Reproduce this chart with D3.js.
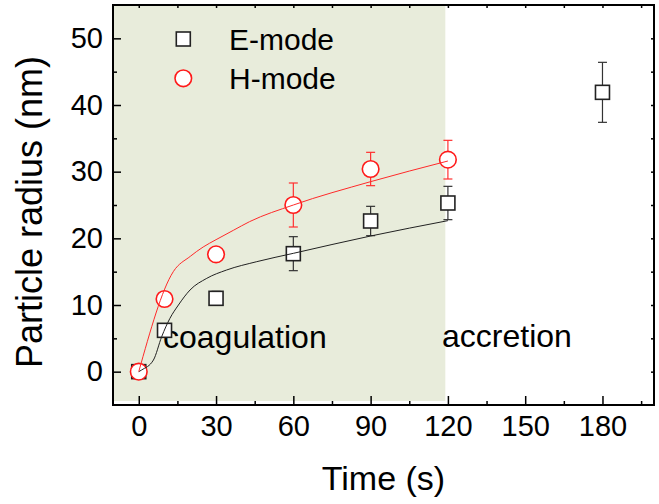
<!DOCTYPE html>
<html>
<head>
<meta charset="utf-8">
<script src="https://cdn.jsdelivr.net/npm/d3@7"></script>
<style>
  body { margin: 0; background: #fff; }
  svg { display: block; font-family: "Liberation Sans", Arial, sans-serif; }
</style>
</head>
<body>
<svg width="659" height="504"></svg>
<script>
// measured points
const timeE = [0, 10, 30, 60, 90, 120, 180];
const radiusE = [0, 6.2, 11.0, 17.7, 22.6, 25.3, 41.9];
const errE = [0, 0.5, 1.05, 2.55, 2.2, 2.5, 4.5];

const timeH = [0, 10, 30, 60, 90, 120];
const radiusH = [0, 10.9, 17.6, 25.0, 30.4, 31.8];
const errH = [0, 0.3, 0.4, 3.3, 2.5, 2.9];

// fitted curves
const fitTimeE = [0, 1.1, 5.7, 8.9, 12.1, 15.4, 19.9, 26.4, 34.1, 45.8, 60, 90, 120];
const fitE = [0, 0.25, 1.75, 5.25, 8, 10, 12.25, 14, 15.25, 16.5, 17.75, 20.35, 22.65];
const fitTimeH = [0, 13.4, 20, 25, 30, 36.7, 43, 60, 90, 120];
const fitH = [0, 15, 17.3, 18.7, 19.8, 21.2, 22.5, 25, 28.5, 31.6];

const xMajor = [0, 30, 60, 90, 120, 150, 180];
const xMinor = [15, 45, 75, 105, 135, 165, 195];
const yMajor = [0, 10, 20, 30, 40, 50];
const yMinor = [5, 15, 25, 35, 45];
const seriesNames = ["E-mode", "H-mode"];
const regionLabels = ["coagulation", "accretion"];
const shadeEnd = 119;

const svg = d3.select("svg");
const mLeft = 113, mRight = 654, mTop = 5, mBottom = 405;

const x = d3.scaleLinear().domain([-10, 200]).range([mLeft, mRight]);
const y = d3.scaleLinear().domain([-5, 55]).range([mBottom, mTop]);

// shaded coagulation region
svg.append("rect")
    .attr("x", mLeft)
    .attr("y", mTop)
    .attr("width", x(shadeEnd) - mLeft)
    .attr("height", mBottom - mTop - 4)
    .attr("fill", "#e8ecdb");

function addAxis(axis, tx, ty, labels) {
    let g = svg.append("g")
        .attr("transform", `translate(${tx},${ty})`)
        .call(axis);
    g.select(".domain").remove();
    g.selectAll("line").attr("stroke", "#000").attr("stroke-width", 1.5);
    g.selectAll("text")
        .attr("fill", "#000")
        .style("font-size", labels ? "29px" : "0px");
    return g;
}

addAxis(d3.axisBottom(x).tickValues(xMajor).tickSize(-9).tickPadding(10), 0, mBottom, true);
addAxis(d3.axisBottom(x).tickValues(xMinor).tickSize(-4).tickFormat(""), 0, mBottom, false);
addAxis(d3.axisLeft(y).tickValues(yMajor).tickSize(-8).tickPadding(10), mLeft, 0, true);
addAxis(d3.axisLeft(y).tickValues(yMinor).tickSize(-4).tickFormat(""), mLeft, 0, false);
addAxis(d3.axisTop(x).tickValues(xMajor.concat(xMinor)).tickSize(-3).tickFormat(""), 0, mTop, false);
addAxis(d3.axisRight(y).tickValues(yMajor.concat(yMinor)).tickSize(-3).tickFormat(""), mRight, 0, false);

svg.append("rect")
    .attr("x", mLeft)
    .attr("y", mTop)
    .attr("width", mRight - mLeft)
    .attr("height", mBottom - mTop)
    .attr("fill", "none")
    .attr("stroke", "#000")
    .attr("stroke-width", 2);

// region labels
svg.append("text")
    .attr("x", 163)
    .attr("y", 348)
    .style("font-size", "32px")
    .text(regionLabels[0]);
svg.append("text")
    .attr("x", 442)
    .attr("y", 347)
    .style("font-size", "32px")
    .text(regionLabels[1]);

// error bars
function errorBars(ts, vs, es, color) {
    let g = svg.append("g").attr("stroke", color).attr("stroke-width", 1.2);
    ts.forEach((t, i) => {
        if (es[i] < 0.6) return;
        let cx = x(t), y1 = y(vs[i] + es[i]), y2 = y(vs[i] - es[i]);
        g.append("line").attr("x1", cx).attr("x2", cx).attr("y1", y1).attr("y2", y2);
        g.append("line").attr("x1", cx - 4.5).attr("x2", cx + 4.5).attr("y1", y1).attr("y2", y1);
        g.append("line").attr("x1", cx - 4.5).attr("x2", cx + 4.5).attr("y1", y2).attr("y2", y2);
    });
}
errorBars(timeE, radiusE, errE, "#333");
errorBars(timeH, radiusH, errH, "#ff3030");

// markers
svg.append("g").selectAll("rect")
    .data(timeE)
    .join("rect")
    .attr("x", d => x(d) - 7)
    .attr("y", (d, i) => y(radiusE[i]) - 7)
    .attr("width", 14)
    .attr("height", 14)
    .attr("fill", "#fff")
    .attr("stroke", "#222")
    .attr("stroke-width", 1.6);

svg.append("g").selectAll("circle")
    .data(timeH)
    .join("circle")
    .attr("cx", d => x(d))
    .attr("cy", (d, i) => y(radiusH[i]))
    .attr("r", 8.3)
    .attr("fill", "#fff")
    .attr("stroke", "#ff1a1a")
    .attr("stroke-width", 1.6);

// fit lines
const line = d3.line().curve(d3.curveMonotoneX);
svg.append("path")
    .attr("d", line(fitTimeE.map((t, i) => [x(t), y(fitE[i])])))
    .attr("fill", "none")
    .attr("stroke", "#222")
    .attr("stroke-width", 1);
svg.append("path")
    .attr("d", line(fitTimeH.map((t, i) => [x(t), y(fitH[i])])))
    .attr("fill", "none")
    .attr("stroke", "#ff2a2a")
    .attr("stroke-width", 1);

// legend
svg.append("rect")
    .attr("x", 176.3).attr("y", 32)
    .attr("width", 14).attr("height", 14)
    .attr("fill", "#fff").attr("stroke", "#222").attr("stroke-width", 1.6);
svg.append("circle")
    .attr("cx", 183.3).attr("cy", 78.3).attr("r", 8.3)
    .attr("fill", "#fff").attr("stroke", "#ff1a1a").attr("stroke-width", 1.6);
seriesNames.forEach((name, i) => {
    svg.append("text")
        .attr("x", 229)
        .attr("y", 50 + i * 39)
        .style("font-size", "30px")
        .text(name);
});

// axis titles
svg.append("text")
    .attr("x", (mLeft + mRight) / 2)
    .attr("y", 490)
    .attr("text-anchor", "middle")
    .style("font-size", "34px")
    .text("Time (s)");
svg.append("text")
    .attr("transform", "translate(42,212) rotate(-90)")
    .attr("text-anchor", "middle")
    .style("font-size", "36px")
    .text("Particle radius (nm)");
</script>
</body>
</html>
